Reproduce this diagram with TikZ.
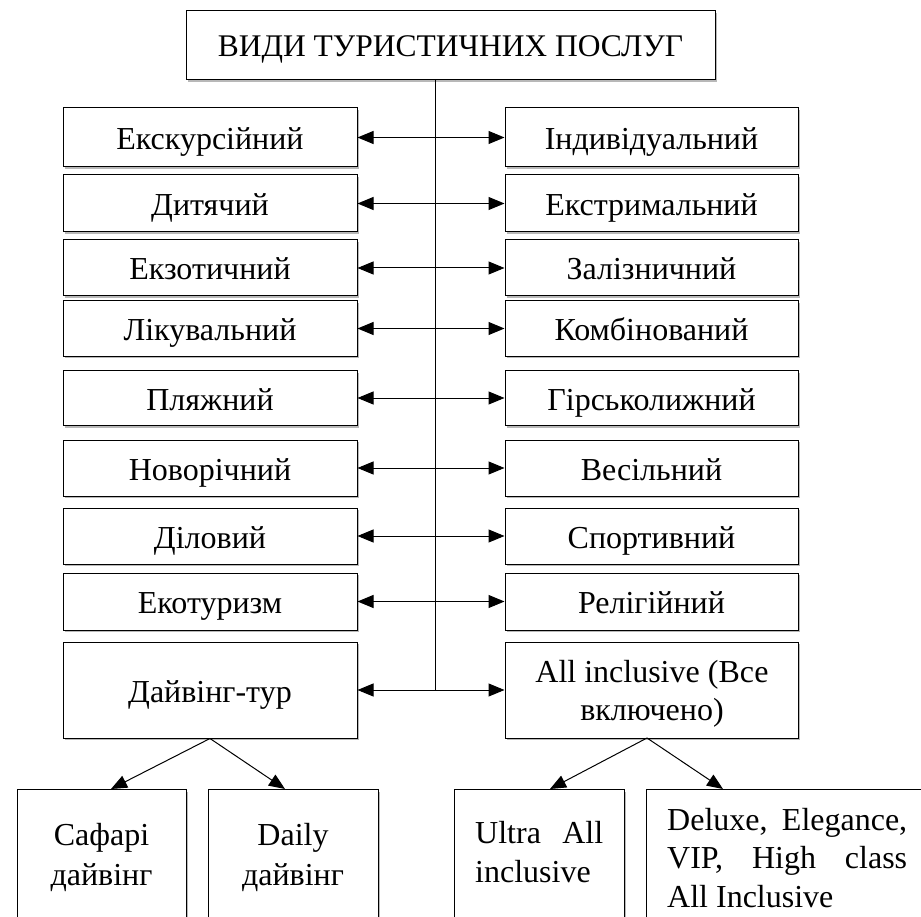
\documentclass[tikz,border=0pt]{standalone}
\usepackage{fontspec}
\setmainfont{Liberation Serif}
\usetikzlibrary{arrows.meta,shadows}
\begin{document}
\begin{tikzpicture}[x=1pt,y=-1pt,
  box/.style={draw, line width=1pt, fill=white,
    drop shadow={shadow xshift=2pt, shadow yshift=-2pt, fill=black, opacity=0.28},
    inner sep=0pt, font=\fontsize{32}{38}\selectfont, align=center,
    text height=24pt, text depth=0pt},
  lbox/.style={box, minimum width=294pt},
  rbox/.style={box, minimum width=293pt},
  txt/.style={inner sep=0pt, font=\fontsize{32}{38}\selectfont},
  darr/.style={line width=1pt, {Triangle[length=16pt,width=13pt]}-{Triangle[length=16pt,width=13pt]}},
  arr/.style={line width=1pt, -{Triangle[length=16pt,width=13pt]}}]
\useasboundingbox (0,0) rectangle (921,917);
\clip (0,0) rectangle (921,917);
\fill[white] (0,0) rectangle (921,917);

\node[box, minimum width=529pt, minimum height=69pt, font=\fontsize{31.5}{38}\selectfont, text height=22pt] (title) at (450.5,45.5) {ВИДИ ТУРИСТИЧНИХ ПОСЛУГ};

\node[lbox, minimum height=59pt] (l1) at (210,137.5) {Екскурсійний};
\node[rbox, minimum height=59pt] (r1) at (651.5,137.5) {Індивідуальний};
\node[lbox, minimum height=57pt] (l2) at (210,203.5) {Дитячий};
\node[rbox, minimum height=57pt] (r2) at (651.5,203.5) {Екстримальний};
\node[lbox, minimum height=56pt] (l3) at (210,268) {Екзотичний};
\node[rbox, minimum height=56pt] (r3) at (651.5,268) {Залізничний};
\node[lbox, minimum height=55pt] (l4) at (210,328.5) {Лікувальний};
\node[rbox, minimum height=55pt] (r4) at (651.5,328.5) {Комбінований};
\node[lbox, minimum height=55pt] (l5) at (210,398) {Пляжний};
\node[rbox, minimum height=55pt] (r5) at (651.5,398) {Гірськолижний};
\node[lbox, minimum height=56pt] (l6) at (210,468) {Новорічний};
\node[rbox, minimum height=56pt] (r6) at (651.5,468) {Весільний};
\node[lbox, minimum height=56pt] (l7) at (210,536) {Діловий};
\node[rbox, minimum height=56pt] (r7) at (651.5,536) {Спортивний};
\node[lbox, minimum height=57pt] (l8) at (210,601.5) {Екотуризм};
\node[rbox, minimum height=57pt] (r8) at (651.5,601.5) {Релігійний};
\node[lbox, minimum height=96pt] (l9) at (210,690) {Дайвінг-тур};
\node[rbox, minimum height=96pt] (r9) at (651.5,690) {};
\node[txt, anchor=base] (r9a) at (652,682) {All inclusive (Все};
\node[txt, anchor=base] (r9b) at (652,720) {включено)};

% bottom boxes (cut by the lower edge)
\node[box, minimum width=169pt, minimum height=160pt, anchor=north] (s1) at (101.5,789) {};
\node[box, minimum width=170pt, minimum height=160pt, anchor=north] (s2) at (293,789) {};
\node[box, minimum width=170pt, minimum height=160pt, anchor=north] (s3) at (539,789) {};
\node[box, minimum width=300pt, minimum height=160pt, anchor=north west] (s4) at (646,789) {};

\node[txt, anchor=base] (s1a) at (101.5,845) {Сафарі};
\node[txt, anchor=base] (s1b) at (101.5,885) {дайвінг};
\node[txt, anchor=base] (s2a) at (293,845) {Daily};
\node[txt, anchor=base] (s2b) at (293,885) {дайвінг};
\node[txt, anchor=base west] (s3a) at (475,843) {\makebox[128pt][s]{Ultra All}};
\node[txt, anchor=base west] (s3b) at (475,882) {inclusive};
\node[txt, anchor=base west] (s4a) at (667,830) {\makebox[240pt][s]{Deluxe, Elegance,}};
\node[txt, anchor=base west] (s4b) at (667,868) {\makebox[240pt][s]{VIP, High class}};
\node[txt, anchor=base west] (s4c) at (667,907) {All Inclusive};

% trunk
\coordinate (trunk) at (435,690);
\draw[line width=1pt] (title.south -| trunk) -- (trunk);

\foreach \i in {1,...,9} {
  \draw[darr] (l\i.east) -- (r\i.west);
}

\coordinate (d1) at (111,789);
\coordinate (d2) at (285,789);
\coordinate (d3) at (550,789);
\coordinate (d4) at (723,789);
\coordinate (rb) at (647,738);
\draw[arr] (l9.south) -- (d1);
\draw[arr] (l9.south) -- (d2);
\draw[arr] (rb) -- (d3);
\draw[arr] (rb) -- (d4);
\end{tikzpicture}
\end{document}
